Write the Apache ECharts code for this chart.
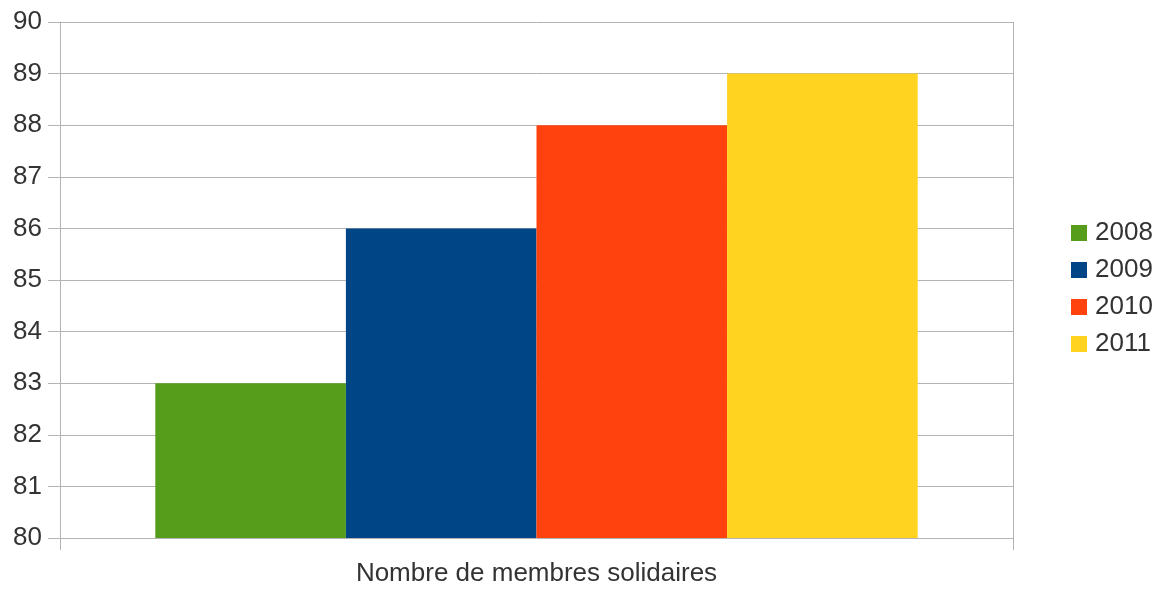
<!DOCTYPE html>
<html>
<head>
    <meta charset="UTF-8">
    <title>Nombre de membres solidaires</title>
    <script type="text/javascript" src="https://cdn.jsdelivr.net/npm/echarts@6/dist/echarts.min.js"></script>
    <style>
        html, body { margin: 0; padding: 0; background: #ffffff; }
    </style>
</head>
<body>
<div id="main" style="width: 1163px;height:590px;"></div>
<script type="text/javascript">
    // données
    var categories = ['Nombre de membres solidaires'];
    var years = ['2008', '2009', '2010', '2011'];
    var values = [83, 86, 88, 89];
    var colors = ['#579d1c', '#004586', '#ff420e', '#ffd320'];

    var myChart = echarts.init(document.getElementById('main'));

    var series = years.map(function (y, i) {
        return {
            name: y,
            type: 'bar',
            barGap: '0%',
            barCategoryGap: '20%',
            itemStyle: { color: colors[i] },
            data: [values[i]]
        };
    });

    var option = {
        backgroundColor: '#ffffff',
        animation: false,
        textStyle: { fontFamily: 'Liberation Sans, Arial, sans-serif' },
        grid: { left: 60, right: 150, top: 22, bottom: 52 },
        legend: {
            orient: 'vertical',
            left: 1071,
            top: 220,
            padding: 0,
            itemWidth: 16,
            itemHeight: 16,
            itemGap: 11,
            icon: 'rect',
            textStyle: { fontSize: 26, color: '#333333', fontFamily: 'Liberation Sans, Arial, sans-serif', padding: [0, 0, 0, 3] },
            data: years
        },
        xAxis: {
            type: 'category',
            data: categories,
            axisLine: { show: false },
            axisTick: { show: true, length: 12, lineStyle: { color: '#b3b3b3' } },
            splitLine: { show: true, lineStyle: { color: '#b3b3b3' } },
            axisLabel: { fontSize: 26, color: '#333333', margin: 23 }
        },
        yAxis: {
            type: 'value',
            min: 80,
            max: 90,
            interval: 1,
            axisLine: { show: true, lineStyle: { color: '#b3b3b3' } },
            axisTick: { show: true, length: 12, lineStyle: { color: '#b3b3b3' } },
            splitLine: { show: true, lineStyle: { color: '#b3b3b3' } },
            axisLabel: { fontSize: 26, color: '#333333', margin: 18 }
        },
        series: series
    };

    myChart.setOption(option);
</script>
</body>
</html>
